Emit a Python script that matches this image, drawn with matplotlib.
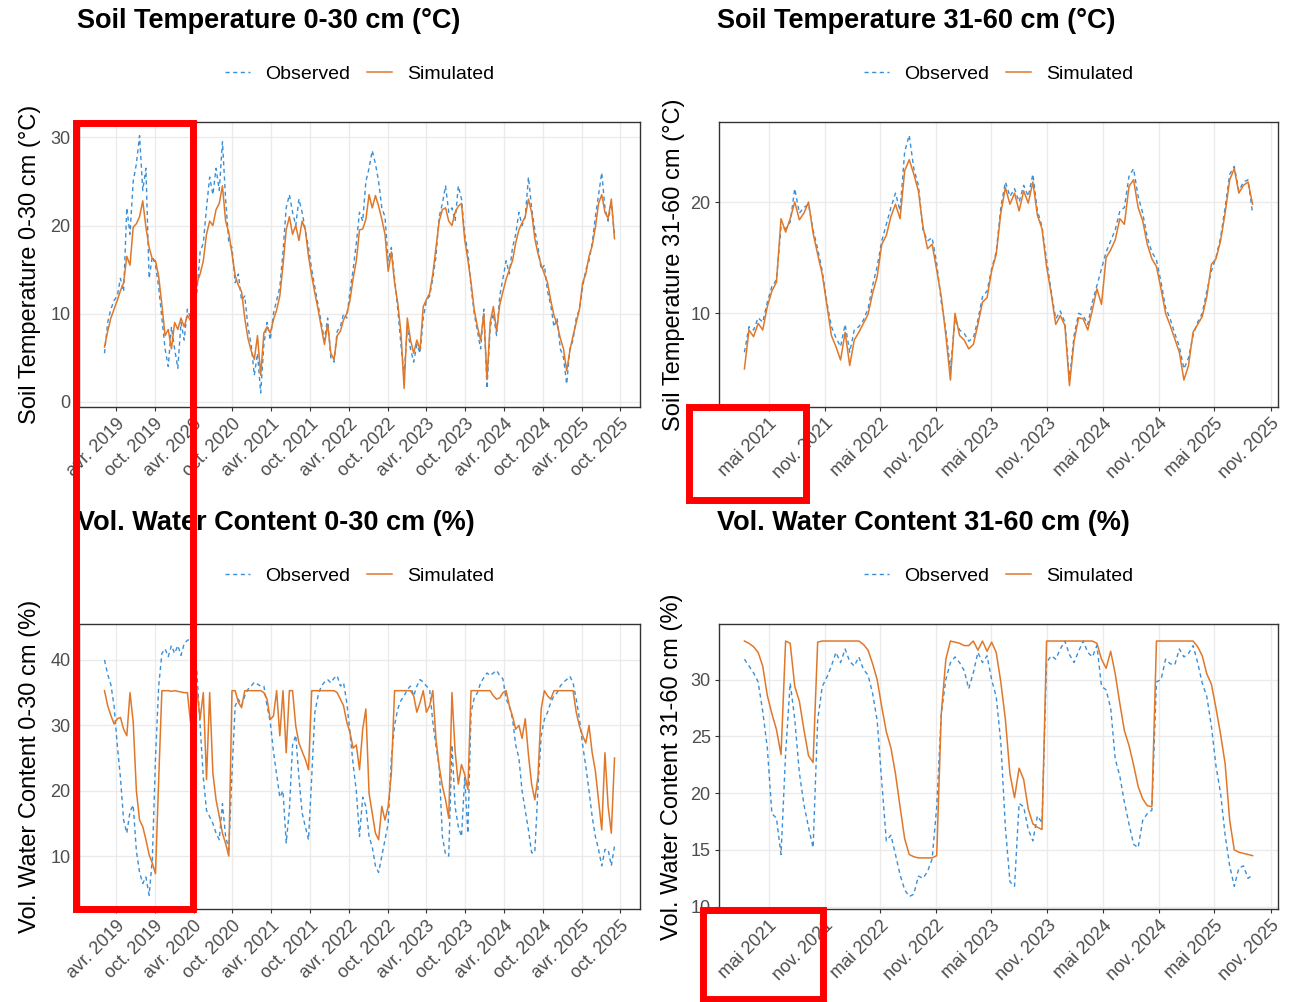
import matplotlib
matplotlib.use("Agg")
import matplotlib.pyplot as plt
import pandas as pd
from matplotlib.patches import Rectangle

plt.rcParams["font.family"] = ["Liberation Sans", "DejaVu Sans"]

W, H = 1304, 1002

# dates (15-day steps) for the 0-30 cm and 31-60 cm sensors
dates_0_30 = pd.date_range("2019-02-07", periods=161, freq="15D")
dates_31_60 = pd.date_range("2021-02-11", periods=112, freq="15D")

temp_0_30_obs = [
    5.5, 9.0, 10.5, 11.5, 12.0, 14.0, 12.5, 22.0, 19.0, 25.0,
    27.0, 30.2, 24.0, 26.5, 14.0, 16.5, 15.5, 13.0, 9.5, 6.0,
    4.0, 8.5, 6.0, 3.8, 9.0, 7.0, 10.5, 9.5, 11.0, 12.5,
    17.0, 18.0, 22.0, 25.5, 23.5, 26.5, 24.0, 29.5, 23.0, 18.0,
    17.5, 13.5, 14.5, 11.5, 12.0, 8.5, 6.5, 3.0, 5.5, 1.0,
    6.5, 9.0, 7.0, 10.0, 11.5, 13.0, 17.0, 22.0, 23.5, 21.5,
    20.0, 23.0, 21.5, 19.5, 17.5, 15.0, 13.0, 11.0, 9.0, 7.0,
    9.5, 5.0, 4.5, 8.0, 8.5, 10.0, 9.5, 12.5, 15.0, 18.0,
    21.5, 20.5, 25.0, 26.5, 28.5, 27.0, 25.0, 22.0, 21.0, 16.0,
    17.5, 14.0, 10.5, 6.5, 3.0, 8.5, 6.0, 4.5, 6.5, 5.5,
    9.5, 11.5, 12.0, 14.0, 16.5, 21.0, 22.5, 24.5, 21.5, 22.0,
    20.5, 24.5, 23.0, 19.0, 17.0, 13.0, 10.0, 8.0, 6.0, 10.5,
    1.5, 8.5, 10.0, 7.5, 12.0, 14.0, 16.0, 14.5, 17.5, 19.0,
    21.5, 20.0, 21.0, 25.5, 22.0, 19.5, 17.5, 15.0, 15.5, 12.5,
    11.0, 8.5, 9.5, 6.0, 5.0, 2.0, 6.0, 7.0, 9.5, 10.5,
    13.0, 15.0, 16.0, 18.0, 21.0, 23.5, 26.0, 22.0, 20.5, 22.5, 19.0,
]
temp_0_30_sim = [
    6.2, 8.0, 9.5, 10.5, 11.5, 12.6, 13.5, 16.5, 15.5, 19.8,
    20.2, 21.0, 22.8, 19.8, 17.5, 16.2, 16.0, 14.2, 11.0, 7.5,
    8.2, 6.0, 9.0, 8.2, 9.5, 8.5, 9.8, 9.2, 10.5, 13.5,
    14.5, 16.0, 19.0, 20.5, 20.0, 21.8, 22.5, 24.5, 20.5, 19.2,
    16.8, 14.3, 13.2, 12.5, 9.5, 7.2, 5.8, 4.8, 7.5, 3.0,
    7.8, 8.5, 7.8, 9.3, 10.4, 12.0, 15.5, 19.5, 21.0, 19.0,
    20.0, 18.3, 20.5, 19.5, 16.5, 14.3, 12.3, 10.5, 8.5, 6.5,
    8.8, 5.5, 4.8, 7.5, 8.0, 9.3, 10.0, 11.5, 14.0, 16.0,
    19.5, 19.6, 20.7, 23.5, 22.0, 23.4, 22.2, 20.7, 19.0, 14.8,
    17.0, 13.5, 11.2, 7.8, 1.5, 9.5, 7.0, 5.5, 7.0, 5.9,
    10.8, 11.6, 12.3, 14.5, 17.5, 20.5, 21.8, 22.0, 20.5, 20.0,
    21.5, 22.2, 22.5, 18.4, 16.1, 13.5, 10.4, 8.5, 7.0, 10.0,
    2.5, 9.0, 10.8, 8.0, 11.0, 12.5, 13.9, 15.0, 16.0, 18.0,
    19.5, 20.3, 21.0, 23.0, 21.5, 18.5, 16.8, 15.5, 14.5, 13.5,
    11.5, 9.8, 8.8, 7.2, 6.0, 3.5, 5.8, 7.5, 9.0, 10.5,
    13.5, 14.5, 16.5, 17.7, 19.8, 22.5, 23.5, 21.5, 20.8, 23.0, 18.5,
]

temp_31_60_obs = [
    6.5, 8.8, 8.5, 9.6, 9.2, 11.0, 12.4, 13.0, 17.8, 17.6,
    18.2, 21.2, 19.0, 19.5, 19.8, 17.5, 15.8, 13.8, 11.0, 8.8,
    7.8, 7.0, 9.0, 6.5, 8.5, 8.8, 9.4, 10.4, 12.5, 14.2,
    16.5, 18.0, 19.5, 20.8, 19.2, 24.5, 26.0, 23.0, 21.5, 17.5,
    16.5, 16.8, 14.5, 11.0, 8.5, 5.0, 9.5, 8.5, 8.2, 7.5,
    7.8, 9.4, 11.5, 12.0, 14.0, 15.5, 19.5, 21.8, 20.5, 21.2,
    20.0, 21.5, 20.5, 22.5, 19.2, 17.8, 14.8, 12.0, 9.5, 10.2,
    9.2, 4.0, 8.0, 10.0, 9.8, 9.0, 11.0, 12.5, 14.0, 15.5,
    16.5, 17.5, 19.2, 19.5, 22.3, 23.0, 20.5, 19.0, 16.8, 15.5,
    14.8, 12.8, 10.5, 9.5, 8.2, 7.0, 5.0, 6.0, 8.0, 9.2,
    10.0, 12.0, 13.8, 15.0, 16.8, 19.5, 22.5, 23.2, 21.0, 21.8, 22.0, 19.0,
]
temp_31_60_sim = [
    5.0, 8.5, 7.9, 9.1, 8.5, 10.6, 12.0, 12.8, 18.5, 17.3,
    18.5, 20.0, 18.4, 19.0, 20.0, 17.2, 15.3, 13.5, 10.8, 8.0,
    7.0, 5.8, 8.3, 5.3, 7.6, 8.3, 9.1, 9.9, 11.8, 13.3,
    16.2, 17.0, 18.7, 19.8, 18.5, 22.8, 23.8, 22.5, 21.0, 17.8,
    15.8, 16.2, 13.9, 11.5, 8.0, 4.0, 10.0, 8.0, 7.6, 6.8,
    7.2, 9.0, 11.0, 11.4, 13.8, 15.3, 19.0, 21.3, 19.8, 20.8,
    19.2, 21.0, 19.9, 21.8, 18.8, 17.6, 14.2, 11.8, 9.0, 9.8,
    8.9, 3.5, 7.5, 9.6, 9.5, 8.5, 10.3, 12.2, 10.8, 15.0,
    15.7, 16.6, 18.5, 18.0, 21.4, 22.0, 19.5, 18.3, 16.2, 14.9,
    14.2, 12.2, 10.0, 8.9, 7.7, 6.5, 4.0, 5.3, 8.3, 9.0,
    9.7, 11.5, 14.4, 14.9, 16.5, 19.0, 22.0, 23.0, 20.8, 21.5, 21.8, 19.8,
]

vwc_0_30_obs = [
    40.0, 37.8, 36.2, 33.0, 27.0, 22.0, 15.5, 13.5, 16.8, 17.8,
    10.8, 7.5, 5.8, 6.8, 4.0, 9.5, 25.0, 36.0, 41.0, 41.7,
    40.5, 42.2, 41.0, 42.2, 40.7, 42.5, 43.0, 43.2, 41.5, 38.0,
    29.9, 22.0, 17.0, 16.0, 15.0, 13.5, 12.5, 18.0, 13.0, 11.0,
    22.7, 33.0, 34.0, 33.0, 34.5, 35.5, 36.0, 36.6, 36.3, 36.0,
    36.0, 33.0, 30.5, 26.0, 22.5, 19.0, 20.0, 12.0, 17.0, 27.0,
    28.5, 22.0, 16.6, 14.5, 12.5, 22.0, 32.0, 34.5, 36.0, 36.6,
    37.0, 36.5, 37.2, 37.6, 36.0, 36.5, 33.5, 29.0, 24.0, 20.0,
    13.0, 19.0, 17.6, 13.0, 11.4, 8.5, 7.5, 10.0, 12.5, 15.0,
    25.0, 30.0, 32.5, 33.8, 34.5, 35.5, 36.0, 34.5, 36.0, 37.0,
    36.6, 36.0, 35.5, 30.5, 26.8, 23.7, 13.0, 10.2, 10.0, 27.0,
    17.5, 14.5, 13.0, 22.0, 13.5, 32.0, 34.2, 35.0, 36.5, 37.3,
    38.0, 37.6, 38.0, 38.4, 37.6, 37.1, 34.0, 33.0, 31.0, 27.0,
    25.0, 20.0, 17.0, 14.0, 10.5, 10.5, 20.5, 28.4, 30.9, 32.0,
    33.5, 34.5, 35.0, 36.0, 36.6, 37.0, 37.5, 36.5, 34.0, 31.0,
    27.0, 23.7, 20.0, 16.0, 13.0, 11.0, 8.5, 11.0, 11.0, 8.5, 11.5,
]
vwc_0_30_sim = [
    35.3, 33.0, 31.5, 30.2, 31.0, 31.2, 29.4, 28.4, 35.0, 30.5,
    20.0, 15.5, 14.5, 12.5, 10.2, 8.9, 7.3, 21.7, 35.3, 35.3,
    35.3, 35.2, 35.3, 35.2, 35.1, 35.0, 35.0, 30.4, 35.3, 35.3,
    31.0, 35.0, 21.7, 35.0, 22.7, 18.6, 16.1, 13.5, 11.9, 10.0,
    35.3, 35.3, 33.5, 32.7, 35.3, 35.3, 35.3, 35.3, 35.3, 35.3,
    35.0, 34.0, 30.9, 31.4, 35.3, 28.4, 35.3, 25.8, 35.3, 35.3,
    29.9, 27.3, 26.0, 24.8, 23.2, 35.3, 35.3, 35.3, 35.3, 35.3,
    35.3, 35.3, 35.3, 35.0, 34.0, 33.0, 30.5, 28.9, 26.5, 27.0,
    23.2, 29.4, 32.5, 19.6, 16.6, 13.5, 12.5, 17.6, 15.5, 17.6,
    22.7, 35.3, 35.3, 35.3, 35.3, 35.3, 35.3, 34.5, 32.0, 33.5,
    35.3, 32.0, 33.0, 35.3, 27.8, 23.7, 20.7, 18.6, 15.8, 35.0,
    26.0, 21.0, 24.0, 22.5, 20.2, 35.3, 35.3, 35.3, 35.3, 35.3,
    35.3, 35.3, 34.5, 34.0, 34.2, 35.0, 35.3, 33.0, 31.4, 29.4,
    30.0, 28.0, 31.0, 25.5, 21.0, 18.6, 22.2, 32.5, 35.3, 34.5,
    34.0, 35.3, 35.3, 35.3, 35.3, 35.3, 35.3, 35.3, 32.0, 29.9,
    28.4, 27.3, 30.0, 25.8, 23.0, 18.5, 14.0, 25.8, 17.6, 13.5, 25.0,
]

vwc_31_60_obs = [
    31.8, 31.2, 30.6, 29.8, 27.2, 24.0, 18.2, 17.8, 14.6, 23.5,
    29.7, 26.5, 21.8, 19.0, 17.0, 15.2, 26.4, 29.4, 30.2, 31.2,
    32.4, 31.5, 32.7, 31.6, 31.2, 32.0, 30.9, 30.4, 28.8, 26.4,
    21.0, 15.8, 16.3, 14.6, 12.8, 11.5, 10.9, 11.1, 12.7, 12.5,
    13.1, 14.2, 18.8, 27.0, 30.0, 31.5, 32.0, 31.5, 30.8, 29.2,
    30.6, 32.4, 31.5, 32.1, 30.0, 28.5, 24.5, 17.0, 12.2, 11.8,
    19.1, 18.8, 16.8, 15.8, 18.0, 17.4, 31.5, 32.1, 31.8, 32.7,
    33.4, 32.2, 31.5, 32.5, 33.4, 32.4, 32.0, 33.0, 29.4, 29.1,
    27.5, 23.0, 21.5, 19.2, 17.3, 15.5, 15.2, 17.6, 18.2, 18.5,
    29.8, 30.0, 31.8, 31.4, 31.3, 32.7, 32.0, 32.3, 33.0, 31.5,
    29.7, 28.5, 25.9, 22.4, 20.0, 16.3, 13.6, 11.8, 13.4, 13.6, 12.5, 12.8,
]
vwc_31_60_sim = [
    33.4, 33.2, 32.9, 32.4, 31.2, 28.6, 27.0, 25.6, 23.4, 33.4,
    33.2, 29.4, 28.1, 25.6, 23.3, 22.7, 33.3, 33.4, 33.4, 33.4,
    33.4, 33.4, 33.4, 33.4, 33.4, 33.4, 33.1, 32.6, 31.4, 30.0,
    27.6, 25.4, 24.0, 21.7, 18.8, 16.0, 14.6, 14.4, 14.3, 14.3,
    14.3, 14.3, 14.5, 27.0, 31.8, 33.4, 33.3, 33.2, 33.0, 33.0,
    33.4, 32.6, 33.4, 32.5, 33.3, 32.4, 29.8, 26.5, 21.7, 19.6,
    22.2, 21.2, 18.6, 17.3, 17.0, 16.8, 33.4, 33.4, 33.4, 33.4,
    33.4, 33.4, 33.4, 33.4, 33.4, 33.4, 33.4, 33.2, 31.8, 31.0,
    32.5, 30.5, 27.9, 25.5, 24.2, 22.5, 20.6, 19.5, 18.9, 18.8,
    33.4, 33.4, 33.4, 33.4, 33.4, 33.4, 33.4, 33.4, 33.4, 32.9,
    32.1, 30.5, 29.6, 27.5, 25.2, 22.6, 17.6, 15.0, 14.8, 14.7, 14.6, 14.5,
]

ticks_0_30 = pd.to_datetime([f"{y}-{m}-01" for y in range(2019, 2026) for m in ("04", "10")])
labels_0_30 = [f"{m} {y}" for y in range(2019, 2026) for m in ("avr.", "oct.")]
ticks_31_60 = pd.to_datetime([f"{y}-{m}-01" for y in range(2021, 2026) for m in ("05", "11")])
labels_31_60 = [f"{m} {y}" for y in range(2021, 2026) for m in ("mai", "nov.")]

OBS_COLOR = "#3A8FD6"
SIM_COLOR = "#E0782A"


def px_box(x0, y0, x1, y1):
    return [x0 / W, 1 - y1 / H, (x1 - x0) / W, (y1 - y0) / H]


fig = plt.figure(figsize=(W / 100, H / 100), dpi=100)

panels = [
    ("Soil Temperature 0-30 cm (°C)", dates_0_30, temp_0_30_obs, temp_0_30_sim,
     ticks_0_30, labels_0_30, [0, 10, 20, 30], (-0.6, 31.75), (79, 122, 640, 407), 30),
    ("Soil Temperature 31-60 cm (°C)", dates_31_60, temp_31_60_obs, temp_31_60_sim,
     ticks_31_60, labels_31_60, [10, 20], (1.58, 27.19), (719, 122, 1278, 407), 674),
    ("Vol. Water Content 0-30 cm (%)", dates_0_30, vwc_0_30_obs, vwc_0_30_sim,
     ticks_0_30, labels_0_30, [10, 20, 30, 40], (1.9, 45.5), (79, 624, 640, 909), 30),
    ("Vol. Water Content 31-60 cm (%)", dates_31_60, vwc_31_60_obs, vwc_31_60_sim,
     ticks_31_60, labels_31_60, [10, 15, 20, 25, 30], (9.8, 34.9), (719, 624, 1278, 909), 672),
]

for name, dates, obs, sim, xt, xl, yt, ylim, box, ylab_x in panels:
    x0, y0, x1, y1 = box
    ax = fig.add_axes(px_box(*box))
    ax.plot(dates, obs, color=OBS_COLOR, lw=1.0, ls=(0, (3.0, 2.5)), label="Observed")
    ax.plot(dates, sim, color=SIM_COLOR, lw=1.1, label="Simulated")

    span = dates[-1] - dates[0]
    ax.set_xlim(dates[0] - span * 0.05, dates[-1] + span * 0.05)
    ax.set_ylim(*ylim)
    ax.set_xticks(xt)
    ax.set_xticklabels(xl, rotation=45, ha="right", rotation_mode="anchor")
    ax.set_yticks(yt)

    ax.grid(True, color="#EBEBEB", lw=1.0)
    ax.set_axisbelow(True)
    for s in ax.spines.values():
        s.set_color("#333333")
        s.set_linewidth(1.0)
    ax.tick_params(length=3, width=0.8, color="#333333", labelsize=13,
                   labelcolor="#4D4D4D", pad=3)

    ax.legend(loc="center", bbox_to_anchor=(0.5, 1 + 48 / (y1 - y0)), ncol=2,
              frameon=False, fontsize=14, handlelength=1.3,
              handletextpad=0.75, columnspacing=0.9)

    # titles and y labels placed like the ggplot layout
    fig.text((x0 - 2) / W, 1 - (y0 - 101) / H, name, fontsize=19.5, fontweight="bold",
             ha="left", va="center")
    fig.text(ylab_x / W, 1 - ((y0 + y1) / 2) / H, name, fontsize=17, rotation=90,
             ha="center", va="center")

# red highlight boxes
for bx0, by0, bx1, by1 in [(75.5, 123, 193, 908.5), (689, 406.5, 805.5, 499.5),
                           (703, 909.5, 822.5, 999)]:
    fig.patches.append(Rectangle((bx0 / W, 1 - by1 / H), (bx1 - bx0) / W, (by1 - by0) / H,
                                 transform=fig.transFigure, fill=False,
                                 edgecolor="#FF0000", lw=5, zorder=10))

fig.savefig("out.png", dpi=100)
